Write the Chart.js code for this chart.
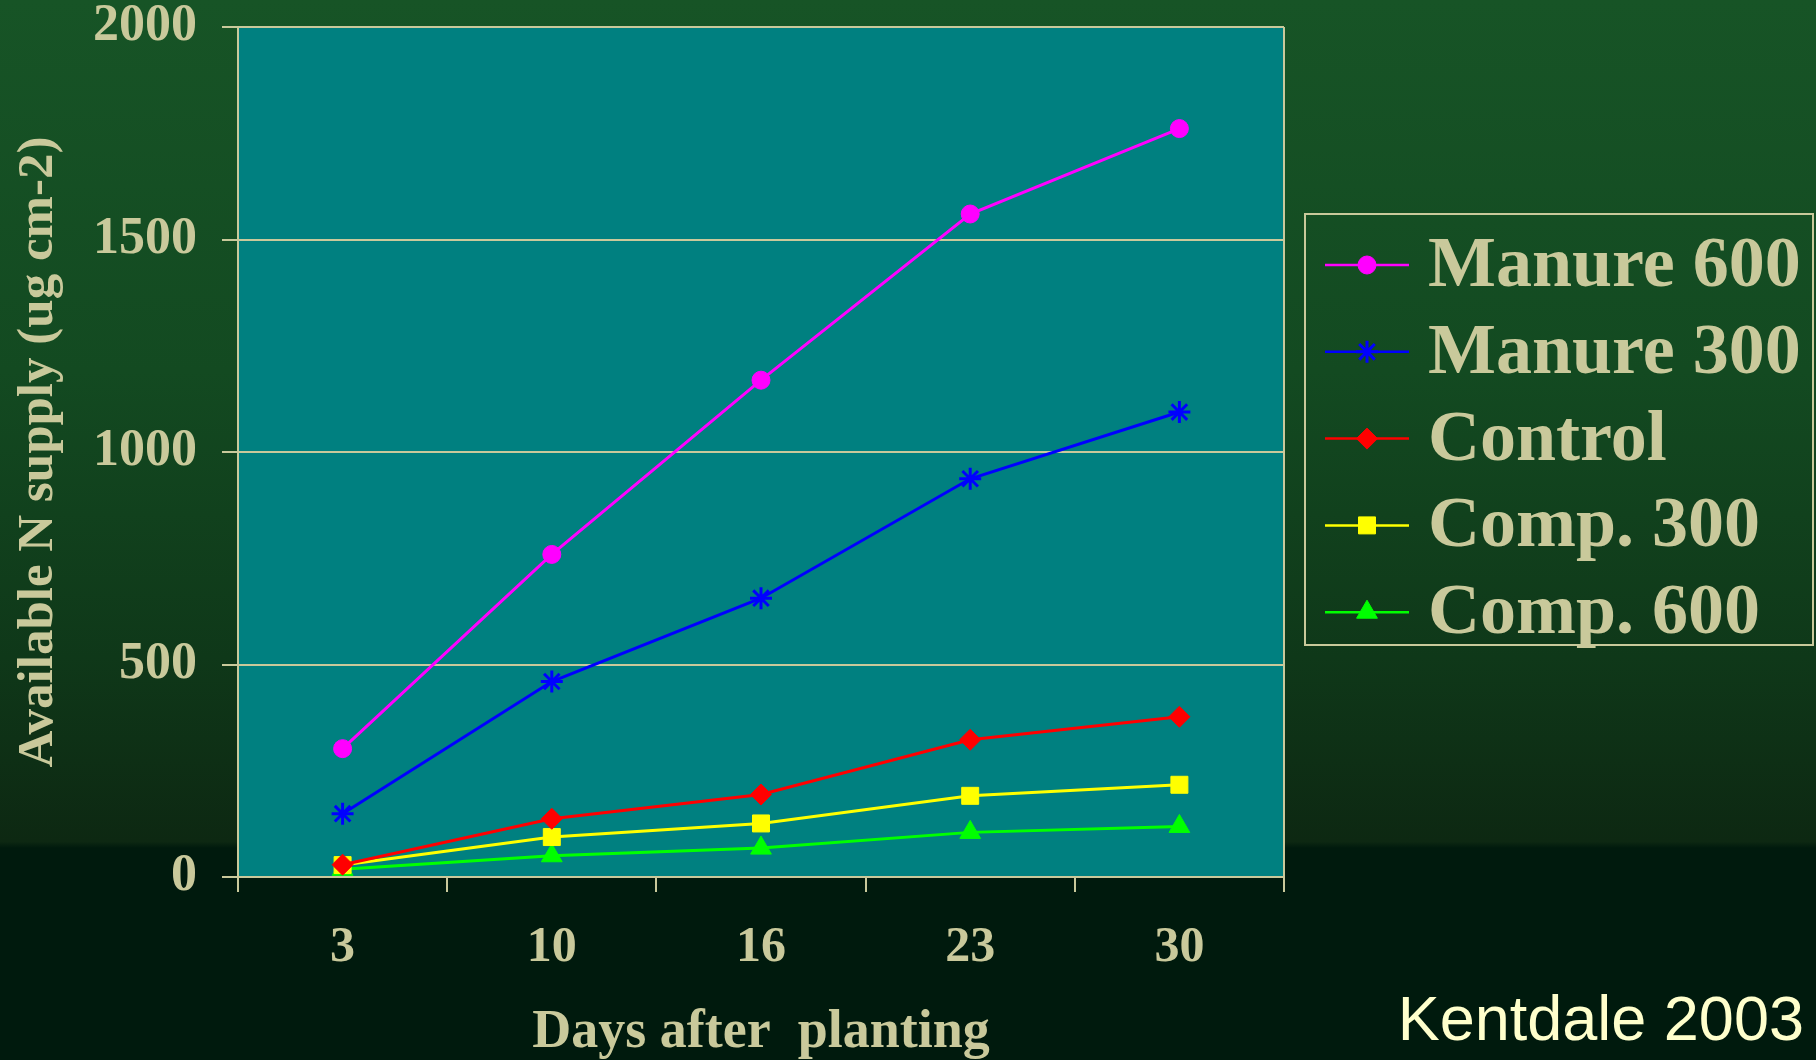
<!DOCTYPE html>
<html>
<head>
<meta charset="utf-8">
<title>Available N supply</title>
<script src="https://cdn.jsdelivr.net/npm/chart.js@4/dist/chart.umd.min.js"></script>
<style>
  html, body {
    margin: 0;
    padding: 0;
    width: 1816px;
    height: 1060px;
    overflow: hidden;
  }
  body {
    background: linear-gradient(to bottom,
      #175426 0%, #134a21 35%, #0f3819 62%, #0d2812 79.4%, #001a0d 80%, #001a0d 100%);
    position: relative;
  }
  #chart { position: absolute; left: 0; top: 0; }
  #credit {
    position: absolute;
    right: 12px;
    top: 987px;
    font: 63px "Liberation Sans", Arial, sans-serif;
    color: #ffffcc;
    line-height: 1;
  }
</style>
</head>
<body>
<canvas id="chart" width="1816" height="1060"></canvas>
<div id="credit">Kentdale 2003</div>
<script>
// ----- Data -----
const days = ["3", "10", "16", "23", "30"];
const seriesNames = ["Manure 600", "Manure 300", "Control", "Comp. 300", "Comp. 600"];
const manure600 = [302, 759, 1169, 1560, 1761];
const manure300 = [149, 460, 656, 937, 1094];
const control = [29, 137, 194, 323, 377];
const comp300 = [28, 94, 126, 191, 217];
const comp600 = [18, 50, 68, 105, 119];
const yMin = 0, yMax = 2000, yStep = 500;

const ink = "#c9c99b";
const serif = "'Liberation Serif', 'Times New Roman', serif";

function series(label, data, color, style, radius) {
  return {
    label, data,
    borderColor: color,
    backgroundColor: color,
    borderWidth: 3,
    pointStyle: style,
    pointRadius: radius,
    pointBackgroundColor: color,
    pointBorderColor: color,
    pointBorderWidth: style === "star" ? 3 : 1,
    tension: 0
  };
}

const datasets = [
  series(seriesNames[0], manure600, "#ff00ff", "circle", 9),
  series(seriesNames[1], manure300, "#0000ff", "star", 11),
  series(seriesNames[2], control, "#ff0000", "rectRot", 10.5),
  series(seriesNames[3], comp300, "#ffff00", "rect", 12),
  series(seriesNames[4], comp600, "#00ff00", "triangle", 12)
];

// ----- Plot background and right frame -----
const plotFrame = {
  id: "plotFrame",
  beforeDraw(chart) {
    const { ctx, chartArea: a } = chart;
    ctx.save();
    ctx.fillStyle = "#008080";
    ctx.fillRect(a.left, a.top, a.right - a.left, a.bottom - a.top);
    ctx.restore();
  },
  afterDraw(chart) {
    const { ctx, chartArea: a } = chart;
    ctx.save();
    ctx.strokeStyle = ink;
    ctx.lineWidth = 2;
    ctx.beginPath();
    ctx.moveTo(a.right, a.top);
    ctx.lineTo(a.right, a.bottom);
    ctx.stroke();
    ctx.restore();
  }
};

// ----- Boxed legend on the right: line + marker + label -----
const boxLegend = {
  id: "boxLegend",
  afterDraw(chart) {
    const ctx = chart.ctx;
    const box = { x: 1305, y: 214, w: 508, h: 431 };
    const rowTop = 265, rowGap = 86.8;
    ctx.save();
    ctx.strokeStyle = ink;
    ctx.lineWidth = 2;
    ctx.strokeRect(box.x, box.y, box.w, box.h);
    chart.data.datasets.forEach((ds, i) => {
      const y = rowTop + i * rowGap;
      ctx.strokeStyle = ds.borderColor;
      ctx.lineWidth = 2.5;
      ctx.beginPath();
      ctx.moveTo(1325, y);
      ctx.lineTo(1409, y);
      ctx.stroke();
      ctx.fillStyle = ds.pointBackgroundColor;
      ctx.strokeStyle = ds.pointBorderColor;
      ctx.lineWidth = ds.pointBorderWidth;
      Chart.helpers.drawPoint(ctx, {
        pointStyle: ds.pointStyle,
        radius: ds.pointRadius,
        rotation: 0,
        borderWidth: ds.pointBorderWidth
      }, 1367, y);
      ctx.fillStyle = ink;
      ctx.font = "bold 72px " + serif;
      ctx.textAlign = "left";
      ctx.textBaseline = "alphabetic";
      ctx.fillText(ds.label, 1428, y + 21);
    });
    ctx.restore();
  }
};

new Chart(document.getElementById("chart"), {
  type: "line",
  data: { labels: days, datasets },
  plugins: [plotFrame, boxLegend],
  options: {
    responsive: false,
    devicePixelRatio: 1,
    animation: false,
    events: [],
    layout: { padding: { left: 0, right: 532, top: 27, bottom: 0 } },
    plugins: {
      legend: { display: false },
      tooltip: { enabled: false }
    },
    scales: {
      x: {
        offset: true,
        afterFit(scale) { scale.height = 183; },
        grid: {
          offset: true,
          drawOnChartArea: false,
          drawTicks: true,
          tickLength: 15,
          color: ink,
          lineWidth: 2
        },
        border: { color: ink, width: 2 },
        ticks: {
          color: ink,
          padding: 26,
          font: { family: serif, size: 50, weight: "bold" }
        },
        title: {
          display: true,
          text: "Days after  planting",
          color: ink,
          padding: { top: 0, bottom: 0 },
          font: { family: serif, size: 54, weight: "bold", lineHeight: 1.0 }
        }
      },
      y: {
        min: yMin,
        max: yMax,
        afterFit(scale) {
          scale.width = 238;
          // labels may overhang the plot top; keep the frame where the padding puts it
          scale.paddingTop = 0;
          scale.paddingBottom = 0;
        },
        grid: {
          color: ink,
          lineWidth: 2,
          tickLength: 16
        },
        border: { color: ink, width: 2 },
        ticks: {
          stepSize: yStep,
          color: ink,
          padding: 25,
          callback: (v) => String(v),
          font: { family: serif, size: 52, weight: "bold" }
        },
        title: {
          display: true,
          text: "Available N supply (ug cm-2)",
          color: ink,
          padding: { top: 8, bottom: 0 },
          font: { family: serif, size: 51, weight: "bold", lineHeight: 1.2 }
        }
      }
    }
  }
});
</script>
</body>
</html>
